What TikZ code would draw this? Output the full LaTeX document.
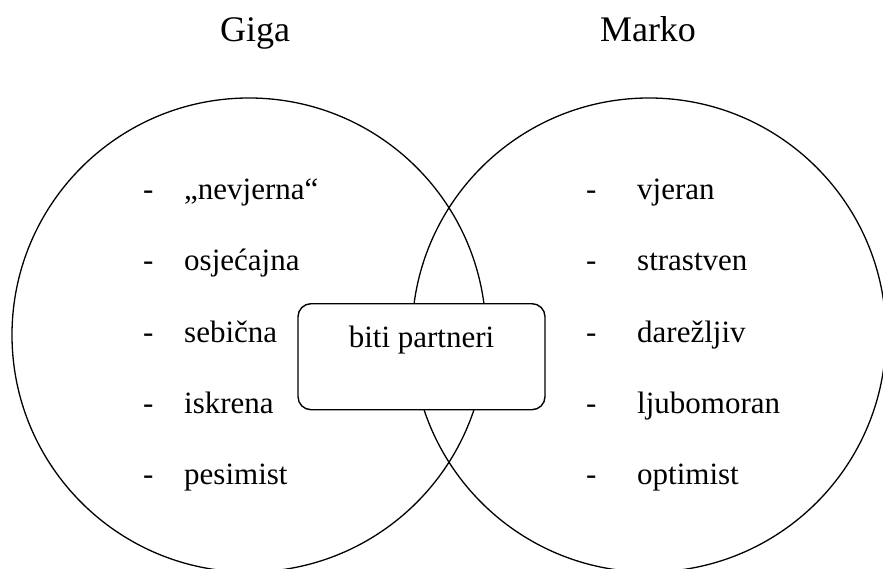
\documentclass[tikz,border=0pt]{standalone}
\usepackage{fontspec}
\setmainfont{Liberation Serif}
\begin{document}
\begin{tikzpicture}[x=1pt,y=-1pt,
  ring/.style={draw, circle, line width=1.3pt, minimum size=474pt, inner sep=0pt},
  title/.style={anchor=base, font=\fontsize{36}{40}\selectfont},
  item/.style={anchor=base west, inner sep=0pt, font=\fontsize{31}{36}\selectfont},
  common/.style={draw, fill=white, line width=1.4pt, rounded corners=13pt, anchor=north,
    minimum width=247pt, inner xsep=0pt, inner ysep=0pt, text height=44pt, text depth=62pt,
    font=\fontsize{31}{36}\selectfont}]
\useasboundingbox (0,0) rectangle (883,569);
\clip (0,0) rectangle (883,569);
\fill[white] (0,0) rectangle (883,569);
\node[ring] (L) at (249,335) {};
\node[ring] (R) at (649,335) {};
\node[title] (tg) at (255,42) {Giga};
\node[title] (tm) at (648,42) {Marko};
% left list
\node[item] (ld1) at (143,200) {-};
\node[item] (lt1) at (184,200) {„nevjerna“};
\node[item] (ld2) at (143,271) {-};
\node[item] (lt2) at (184,271) {osjećajna};
\node[item] (ld3) at (143,342) {-};
\node[item] (lt3) at (184,342) {sebična};
\node[item] (ld4) at (143,413) {-};
\node[item] (lt4) at (184,413) {iskrena};
\node[item] (ld5) at (143,484) {-};
\node[item] (lt5) at (184,484) {pesimist};
% right list
\node[item] (rd1) at (586,200) {-};
\node[item] (rt1) at (637,200) {vjeran};
\node[item] (rd2) at (586,271) {-};
\node[item] (rt2) at (637,271) {strastven};
\node[item] (rd3) at (586,342) {-};
\node[item] (rt3) at (637,342) {darežljiv};
\node[item] (rd4) at (586,413) {-};
\node[item] (rt4) at (637,413) {ljubomoran};
\node[item] (rd5) at (586,484) {-};
\node[item] (rt5) at (637,484) {optimist};
% box
\node[common] (box) at (421.5,303) {biti partneri};
\end{tikzpicture}
\end{document}
